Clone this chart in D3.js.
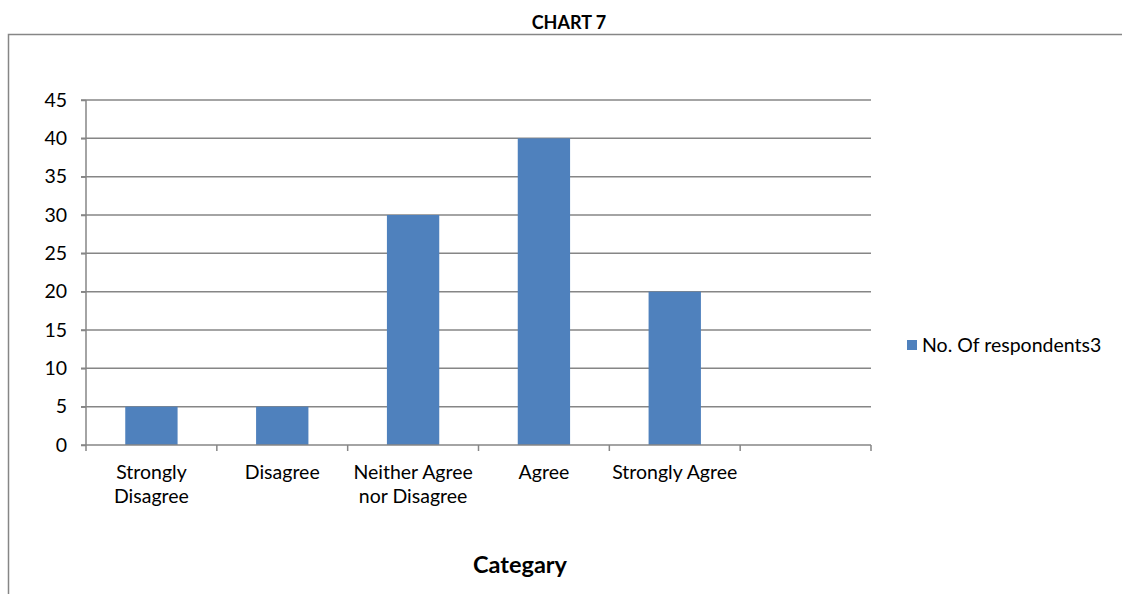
<!DOCTYPE html>
<html><head><meta charset="utf-8">
<script src="https://cdn.jsdelivr.net/npm/d3@7"></script>
<style>body{margin:0;background:#fff;} svg{display:block;font-family:Lato,"Open Sans",sans-serif;}</style>
</head><body>
<svg id="c" width="1122" height="594"></svg>
<script>
const categories = [["Strongly","Disagree"],["Disagree"],["Neither Agree","nor Disagree"],["Agree"],["Strongly Agree"],[""]];
const values = [5,5,30,40,20,null];
const yTicks = [0,5,10,15,20,25,30,35,40,45];
const seriesName = "No. Of respondents3";

const svg = d3.select("#c");
const pL = 86, pR = 871, pT = 100, pB = 445;
const FS = 19.5;
const x = d3.scaleBand().domain(d3.range(categories.length)).range([pL,pR]).paddingInner(0.6).paddingOuter(0.3);
const xb = d3.scaleBand().domain(d3.range(categories.length)).range([pL,pR]);
const y = d3.scaleLinear().domain([0,45]).range([pB,pT]);

// outer border
svg.append("path").attr("d","M8.5,594 V34.5 H1122").attr("fill","none").attr("stroke","#868686").attr("stroke-width",1.5);

svg.append("text").attr("x",569).attr("y",29).attr("text-anchor","middle").attr("font-weight","bold").attr("font-size",18).text("CHART 7");

// gridlines
svg.append("g").selectAll("line").data(yTicks.filter(d=>d>0)).join("line")
  .attr("x1",pL-5).attr("x2",pR).attr("y1",d=>y(d)).attr("y2",d=>y(d))
  .attr("stroke","#868686").attr("stroke-width",1.5);

// bars
svg.append("g").selectAll("rect").data(values.map((v,i)=>({v,i})).filter(d=>d.v!=null)).join("rect")
  .attr("x",d=>x(d.i)).attr("width",x.bandwidth()).attr("y",d=>y(d.v)).attr("height",d=>y(0)-y(d.v))
  .attr("fill","#4F81BD");

// y axis
const ya = svg.append("g").attr("transform",`translate(${pL},0)`)
  .call(d3.axisLeft(y).tickValues(yTicks).tickSize(5).tickPadding(14));
ya.select(".domain").attr("stroke","#868686").attr("stroke-width",1.5).attr("d",`M0,${pT}V${pB}`);
ya.selectAll(".tick line").attr("stroke","#868686").attr("stroke-width",1.5);
ya.selectAll(".tick text").attr("font-size",FS).attr("fill","#000").attr("font-family","Lato");

// x axis
svg.append("line").attr("x1",pL-5).attr("x2",pR).attr("y1",pB).attr("y2",pB).attr("stroke","#868686").attr("stroke-width",1.5);
svg.append("g").selectAll("line").data(d3.range(categories.length+1)).join("line")
  .attr("x1",d=>d<categories.length?xb(d):pR).attr("x2",d=>d<categories.length?xb(d):pR)
  .attr("y1",pB).attr("y2",pB+6).attr("stroke","#868686").attr("stroke-width",1.5);

const lab = svg.append("g").selectAll("text").data(categories).join("text")
  .attr("text-anchor","middle").attr("font-size",FS).attr("fill","#000")
  .attr("x",(d,i)=>xb(i)+xb.bandwidth()/2).attr("y",479);
lab.selectAll("tspan").data(d=>d).join("tspan").attr("x",function(){return this.parentNode.getAttribute("x");})
  .attr("dy",(d,i)=>i?24:0).text(d=>d);

svg.append("text").attr("x",520).attr("y",573).attr("text-anchor","middle").attr("font-weight","bold").attr("font-size",23.5).text("Categary");

// legend
svg.append("rect").attr("x",907).attr("y",340).attr("width",10).attr("height",10).attr("fill","#4F81BD");
svg.append("text").attr("x",922).attr("y",352).attr("font-size",FS).attr("fill","#000").text(seriesName);
</script>
</body></html>
